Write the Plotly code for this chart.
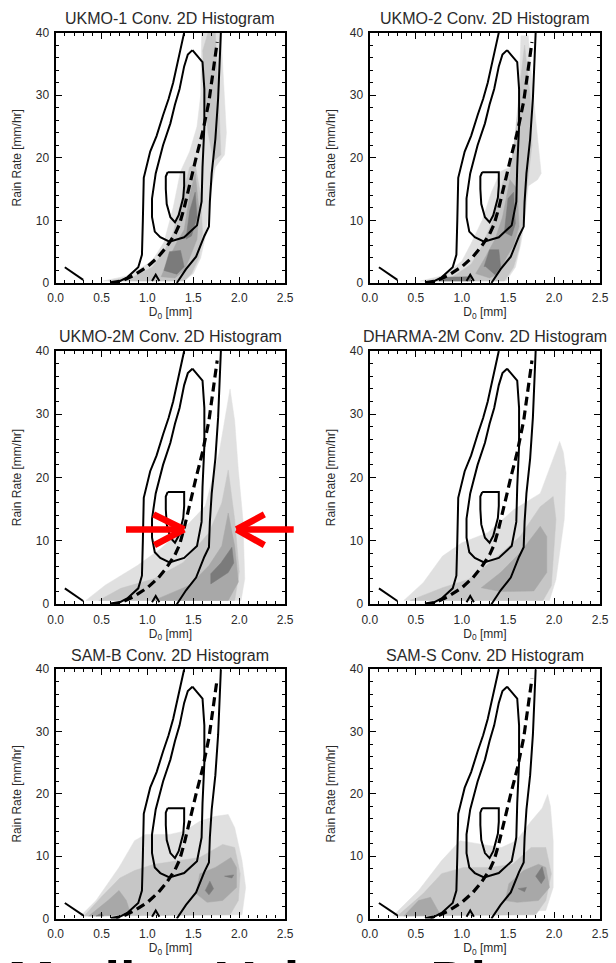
import plotly.graph_objects as go
from plotly.subplots import make_subplots

# ---------------- data ----------------
PANEL_TITLES = ["UKMO-1 Conv. 2D Histogram", "UKMO-2 Conv. 2D Histogram",
                "UKMO-2M Conv. 2D Histogram", "DHARMA-2M Conv. 2D Histogram",
                "SAM-B Conv. 2D Histogram", "SAM-S Conv. 2D Histogram"]
X_TICKS = [0.0, 0.5, 1.0, 1.5, 2.0, 2.5]
Y_TICKS = [0, 10, 20, 30, 40]

# observed (contour lines, identical in all panels)
OBS_OUTER_LEFT_X = [0.66, 0.78, 0.90, 0.94, 0.95, 0.96, 1.03, 1.10, 1.17, 1.23, 1.28, 1.33, 1.37, 1.40]
OBS_OUTER_LEFT_Y = [0.0, 0.9, 2.5, 4.5, 10.0, 16.8, 21.0, 23.5, 26.8, 29.4, 32.0, 35.2, 37.8, 40.0]
OBS_OUTER_RIGHT_X = [1.80, 1.79, 1.77, 1.74, 1.70, 1.68, 1.67, 1.62, 1.53, 1.42, 1.36, 1.32]
OBS_OUTER_RIGHT_Y = [40.0, 36.0, 29.5, 23.0, 17.5, 13.0, 9.0, 7.5, 4.2, 2.2, 1.0, 0.0]
OBS_MID_X = [1.49, 1.60, 1.62, 1.62, 1.60, 1.59, 1.54, 1.40, 1.24, 1.14, 1.08, 1.05, 1.05, 1.09,
             1.17, 1.25, 1.30, 1.35, 1.40, 1.44, 1.49]
OBS_MID_Y = [37.2, 35.3, 31.0, 25.0, 18.5, 13.0, 9.2, 7.3, 6.6, 7.3, 8.2, 10.5, 13.5, 17.5,
             22.0, 25.5, 28.5, 31.0, 34.6, 36.5, 37.2]
OBS_INNER_X = [1.22, 1.40, 1.40, 1.39, 1.34, 1.30, 1.25, 1.21, 1.20, 1.20, 1.22]
OBS_INNER_Y = [17.7, 17.7, 15.5, 13.6, 10.8, 9.7, 10.5, 12.6, 15.0, 17.0, 17.7]
OBS_MEDIAN_X = [0.60, 0.72, 0.85, 1.00, 1.12, 1.21, 1.30, 1.35, 1.40, 1.44, 1.49, 1.53, 1.60,
                1.67, 1.71, 1.74, 1.76]
OBS_MEDIAN_Y = [0.0, 0.3, 1.2, 2.6, 4.2, 5.8, 7.8, 9.4, 12.0, 14.7, 17.5, 20.0, 24.0,
                29.0, 33.0, 36.7, 38.5]
OBS_SMALL_X = [0.10, 0.30]
OBS_SMALL_Y = [2.5, 0.5]
OBS_PEAK_X = [1.05, 1.09, 1.13]
OBS_PEAK_Y = [0.3, 1.3, 0.3]

# model histogram shading: (level, xs, ys), level 1 = lightest ... 4 = darkest
UKMO1_SHADES = [
    (1, [0.52, 0.80, 1.05, 1.18, 1.28, 1.36, 1.46, 1.54, 1.58, 1.59, 1.80, 1.84, 1.86, 1.84, 1.74, 1.68, 1.64, 1.58, 1.50, 1.40, 0.52],
        [0.3, 1.2, 3.5, 6.5, 12.0, 17.8, 21.0, 25.0, 30.0, 40.0, 40.0, 30.0, 24.0, 20.5, 18.5, 14.0, 8.0, 4.0, 1.5, 0.3, 0.3]),
    (2, [1.60, 1.66, 1.74, 1.76, 1.78, 1.80, 1.72, 1.66, 1.62],
        [37.0, 40.0, 40.0, 35.0, 28.0, 20.5, 19.5, 24.0, 30.0]),
    (2, [0.58, 0.85, 1.05, 1.18, 1.28, 1.38, 1.46, 1.52, 1.58, 1.60, 1.56, 1.48, 1.40, 0.58],
        [0.3, 1.0, 2.5, 5.0, 8.0, 14.0, 18.5, 19.0, 14.0, 8.0, 4.0, 1.5, 0.3, 0.3]),
    (3, [1.15, 1.22, 1.32, 1.40, 1.46, 1.52, 1.56, 1.54, 1.46, 1.40, 1.30, 1.15],
        [1.0, 3.5, 6.5, 8.5, 14.0, 17.5, 12.0, 7.0, 4.0, 2.0, 0.8, 1.0]),
    (4, [1.18, 1.24, 1.36, 1.40, 1.32, 1.18], [2.0, 5.0, 5.2, 2.6, 1.4, 2.0]),
    (4, [1.42, 1.46, 1.52, 1.54, 1.48, 1.42], [7.0, 11.5, 14.5, 10.5, 7.5, 7.0]),
]
UKMO2_SHADES = [
    (1, [0.55, 0.80, 1.00, 1.10, 1.22, 1.32, 1.42, 1.52, 1.58, 1.62, 1.64, 1.72, 1.76, 1.80, 1.86, 1.82, 1.72, 1.68, 1.64, 1.58, 1.48, 0.55],
        [0.3, 1.2, 3.5, 6.3, 10.0, 14.5, 17.8, 18.5, 22.0, 30.0, 39.5, 39.5, 32.0, 26.0, 17.5, 16.5, 15.5, 10.0, 6.3, 2.5, 0.3, 0.3]),
    (2, [0.60, 0.90, 1.10, 1.22, 1.35, 1.45, 1.52, 1.58, 1.64, 1.68, 1.74, 1.76, 1.72, 1.66, 1.62, 1.56, 1.46, 0.60],
        [0.3, 1.0, 3.0, 6.0, 10.5, 16.5, 17.5, 24.0, 33.0, 38.0, 30.0, 22.0, 17.0, 10.0, 5.5, 2.5, 0.3, 0.3]),
    (3, [1.15, 1.25, 1.36, 1.44, 1.52, 1.60, 1.62, 1.56, 1.48, 1.40, 1.30, 1.15],
        [1.5, 4.0, 7.0, 10.5, 16.5, 15.0, 9.0, 6.0, 4.0, 1.5, 0.8, 1.5]),
    (4, [1.24, 1.30, 1.40, 1.42, 1.36, 1.26], [2.6, 5.3, 5.3, 2.6, 1.3, 2.6]),
    (4, [1.46, 1.50, 1.56, 1.58, 1.54, 1.47], [8.0, 13.5, 14.5, 9.5, 7.5, 8.0]),
    (4, [0.75, 1.10, 1.10, 0.80], [0.3, 0.3, 1.0, 0.9]),
]
UKMO2M_SHADES = [
    (1, [0.33, 0.54, 0.89, 1.14, 1.46, 1.63, 1.78, 1.85, 1.90, 1.95, 1.99, 2.04, 2.06, 2.02, 0.33],
        [0.6, 3.0, 6.1, 8.7, 12.9, 15.5, 23.8, 30.0, 34.0, 29.0, 21.2, 13.4, 4.0, 0.6, 0.6]),
    (2, [0.47, 0.71, 1.07, 1.39, 1.67, 1.81, 1.88, 1.95, 2.00, 1.95, 0.47],
        [0.6, 2.5, 4.0, 6.6, 11.3, 16.0, 21.2, 13.4, 5.1, 0.6, 0.6]),
    (3, [1.07, 1.46, 1.67, 1.81, 1.88, 1.95, 1.99, 1.88, 1.07],
        [0.6, 3.0, 6.1, 9.2, 14.4, 9.2, 3.5, 0.6, 0.6]),
    (4, [1.69, 1.69, 1.80, 1.92, 1.94, 1.88, 1.69], [3.2, 4.8, 6.5, 9.0, 6.5, 5.0, 3.2]),
]
DHARMA2M_SHADES = [
    (1, [0.37, 0.58, 0.79, 1.00, 1.28, 1.56, 1.85, 1.99, 2.06, 2.10, 2.13, 2.11, 2.02, 1.95, 0.37],
        [0.6, 3.4, 7.6, 9.7, 11.3, 14.9, 17.5, 22.8, 25.7, 24.0, 20.7, 13.4, 3.9, 0.6, 0.6]),
    (2, [0.44, 0.79, 1.07, 1.35, 1.63, 1.85, 1.99, 2.02, 1.97, 1.88, 0.44],
        [0.6, 2.6, 3.9, 7.1, 10.7, 15.4, 17.0, 13.4, 2.9, 0.6, 0.6]),
    (3, [1.21, 1.42, 1.63, 1.85, 1.92, 1.92, 1.78, 1.42, 1.21],
        [2.6, 5.0, 8.1, 12.3, 10.7, 5.0, 2.1, 2.0, 2.6]),
]
SAMB_SHADES = [
    (1, [0.27, 0.44, 0.69, 0.86, 0.98, 1.24, 1.40, 1.57, 1.74, 1.88, 1.95, 2.03, 2.07, 2.03, 0.27],
        [0.4, 2.9, 8.2, 12.5, 13.5, 13.5, 14.0, 15.6, 16.4, 16.7, 14.6, 9.3, 5.0, 0.6, 0.4]),
    (2, [0.31, 0.50, 0.70, 0.86, 1.07, 1.32, 1.57, 1.82, 1.95, 2.01, 1.99, 1.90, 0.31],
        [0.4, 3.5, 6.5, 7.7, 8.7, 9.3, 9.8, 11.9, 11.4, 7.2, 2.9, 0.6, 0.4]),
    (3, [0.36, 0.57, 0.69, 0.77, 0.82, 0.36], [0.4, 2.9, 4.5, 2.9, 0.6, 0.4]),
    (3, [1.53, 1.57, 1.74, 1.91, 1.97, 1.97, 1.82, 1.65, 1.53], [4.0, 7.2, 8.2, 9.8, 8.2, 5.0, 2.9, 2.6, 4.0]),
    (4, [1.63, 1.68, 1.72, 1.67, 1.63], [4.5, 6.0, 4.8, 3.8, 4.5]),
    (4, [1.84, 1.94, 1.92, 1.84], [6.8, 7.0, 6.5, 6.8]),
    (4, [0.44, 0.52, 0.50, 0.44], [0.4, 0.4, 0.9, 0.4]),
]
SAMS_SHADES = [
    (1, [0.25, 0.53, 0.78, 0.98, 1.22, 1.43, 1.59, 1.75, 1.87, 1.93, 1.96, 1.99, 1.99, 1.91, 0.25],
        [0.4, 4.5, 9.3, 12.5, 11.9, 11.4, 12.5, 15.6, 17.7, 19.9, 18.0, 12.5, 5.0, 1.3, 0.4]),
    (2, [0.30, 0.58, 0.78, 1.02, 1.30, 1.55, 1.75, 1.91, 1.97, 1.91, 1.80, 0.30],
        [0.4, 4.0, 7.2, 8.2, 8.2, 8.7, 11.4, 11.4, 7.2, 2.9, 0.6, 0.4]),
    (3, [0.37, 0.53, 0.66, 0.74, 0.78, 0.37], [0.4, 2.9, 3.4, 1.3, 0.5, 0.4]),
    (3, [1.47, 1.51, 1.67, 1.83, 1.91, 1.95, 1.83, 1.60, 1.47], [2.9, 5.6, 7.7, 8.7, 8.2, 5.0, 2.9, 2.6, 2.9]),
    (4, [1.80, 1.87, 1.90, 1.86, 1.80], [6.8, 8.3, 6.5, 5.6, 6.8]),
    (4, [1.61, 1.70, 1.68, 1.61], [4.8, 5.0, 4.3, 4.8]),
]
PANEL_SHADES = [UKMO1_SHADES, UKMO2_SHADES, UKMO2M_SHADES, DHARMA2M_SHADES, SAMB_SHADES, SAMS_SHADES]

# ---------------- styling / layout ----------------
SHADE_COLORS = {1: "#e0e0e0", 2: "#c6c6c6", 3: "#a8a8a8", 4: "#7b7b7b"}
W, H = 616, 963
COL_PX = [(49, 285), (372, 609)]
ROW_PX = [(26, 280), (349, 606), (672, 925)]
FONT = "Liberation Sans, Arial, sans-serif"
TXT = "#2a2a2a"

fig = make_subplots(rows=3, cols=2)

for p in range(6):
    r, c = p // 2 + 1, p % 2 + 1
    for level, xs, ys in PANEL_SHADES[p]:
        fig.add_trace(go.Scatter(x=xs, y=ys, mode="lines", fill="toself",
                                 fillcolor=SHADE_COLORS[level], line=dict(width=0.5, color=SHADE_COLORS[level]),
                                 hoverinfo="skip", showlegend=False), row=r, col=c)
    for xs, ys in [(OBS_OUTER_LEFT_X, OBS_OUTER_LEFT_Y), (OBS_OUTER_RIGHT_X, OBS_OUTER_RIGHT_Y),
                   (OBS_MID_X, OBS_MID_Y), (OBS_INNER_X, OBS_INNER_Y),
                   (OBS_SMALL_X, OBS_SMALL_Y), (OBS_PEAK_X, OBS_PEAK_Y)]:
        fig.add_trace(go.Scatter(x=xs, y=ys, mode="lines", line=dict(color="black", width=2),
                                 hoverinfo="skip", showlegend=False), row=r, col=c)
    fig.add_trace(go.Scatter(x=OBS_MEDIAN_X, y=OBS_MEDIAN_Y, mode="lines",
                             line=dict(color="black", width=3.2, dash="9px,5px"),
                             hoverinfo="skip", showlegend=False), row=r, col=c)

    n = "" if p == 0 else str(p + 1)
    l, rr = COL_PX[c - 1]
    t, b = ROW_PX[r - 1]
    common_ticks = dict(ticks="inside", tickcolor="black", tickwidth=1.2, mirror="allticks",
                        showline=True, linecolor="black", linewidth=2.2, showgrid=False, zeroline=False,
                        tickfont=dict(family=FONT, size=12, color=TXT), fixedrange=True)
    fig.update_layout(**{
        "xaxis" + n: dict(domain=[l / W, rr / W], range=[0, 2.5], tickvals=X_TICKS,
                          ticktext=[f"{v:.1f}" for v in X_TICKS], ticklen=6, ticklabelstandoff=3,
                          minor=dict(ticks="inside", dtick=0.1, ticklen=3, tickcolor="black", tickwidth=1),
                          title=dict(text="D<sub>0</sub> [mm]", font=dict(family=FONT, size=12, color=TXT),
                                     standoff=0),
                          **common_ticks),
        "yaxis" + n: dict(domain=[1 - b / H, 1 - t / H], range=[0, 40], tickvals=Y_TICKS, ticklen=6,
                          ticklabelstandoff=2,
                          minor=dict(ticks="inside", dtick=2, ticklen=3, tickcolor="black", tickwidth=1),
                          title=dict(text="Rain Rate [mm/hr]", font=dict(family=FONT, size=12, color=TXT),
                                     standoff=12),
                          **common_ticks),
    })
    fig.add_annotation(text=PANEL_TITLES[p], x=0.5, y=1, xref=f"x{n} domain", yref=f"y{n} domain",
                       xanchor="center", yanchor="bottom", yshift=3.5, showarrow=False,
                       font=dict(family=FONT, size=16, color=TXT))

# red arrows in the UKMO-2M panel (head at the tip)
ARROWS = [
    # (tip_x, tip_y, tail_x, tail_y)
    (1.40, 11.8, 0.75, 11.8), (1.40, 11.8, 1.05, 14.3), (1.40, 11.8, 1.06, 9.2),
    (1.97, 11.8, 2.61, 11.8), (1.97, 11.8, 2.29, 14.3), (1.97, 11.8, 2.29, 9.2),
]
for hx, hy, tx, ty in ARROWS:
    fig.add_annotation(x=hx, y=hy, ax=tx, ay=ty, xref="x3", yref="y3", axref="x3", ayref="y3",
                       text="", showarrow=True, arrowhead=0, arrowwidth=6.5, arrowcolor="#ff0000",
                       standoff=0, startstandoff=0)

# large caption text at the bottom, cut off by the page edge
fig.add_annotation(text="<b>Median Volume Diameter</b>", x=-2 / W, y=1 - 954 / H, xref="paper", yref="paper",
                   xanchor="left", yanchor="top", showarrow=False,
                   font=dict(family=FONT, size=56, color="black"))

fig.update_layout(width=W, height=H, margin=dict(l=0, r=0, t=0, b=0),
                  paper_bgcolor="white", plot_bgcolor="white", showlegend=False)

fig.write_html("out.html", config={"displayModeBar": False},
               post_script="document.body.style.margin='0px';"
                           "document.documentElement.style.overflow='hidden';"
                           "document.body.style.overflow='hidden';")
